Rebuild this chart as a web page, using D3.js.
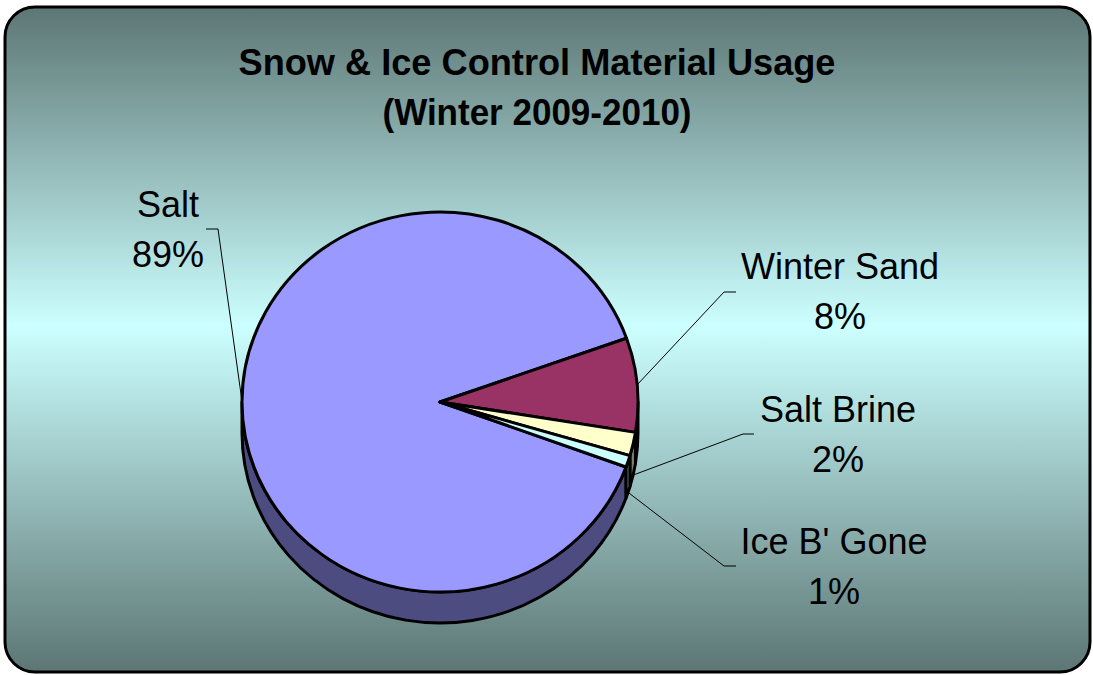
<!DOCTYPE html>
<html>
<head>
<meta charset="utf-8">
<script src="https://cdn.jsdelivr.net/npm/d3@7"></script>
<style>
  html, body { margin: 0; padding: 0; background: #ffffff; }
  svg { display: block; }
  text { font-family: "Liberation Sans", Arial, sans-serif; fill: #000; }
</style>
</head>
<body>
<svg id="chart" width="1093" height="675"></svg>
<script>
// Material usage shares, winter 2009-2010
const categories = ["Salt", "Winter Sand", "Salt Brine", "Ice B' Gone"];
const values = [89, 8, 2, 1];
const percentLabels = ["89%", "8%", "2%", "1%"];
const topColors = ["#9999ff", "#993366", "#ffffcc", "#ccffff"];
const sideColors = ["#4c4c80", "#4d1a33", "#808066", "#668080"];
const titleLines = ["Snow & Ice Control Material Usage", "(Winter 2009-2010)"];

// Layout of the label blocks: text centre, first baseline, and leader elbow
const labelLayout = [
  { x: 168, y: 217, elbow: [[206, 229], [218, 229]] },
  { x: 840, y: 279, elbow: [[736, 292], [724, 292]] },
  { x: 838, y: 422, elbow: [[754, 434], [743, 434]] },
  { x: 834, y: 554, elbow: [[736, 566], [724, 566]] }
];

const W = 1093, H = 675;
const svg = d3.select("#chart");

// Background panel with vertical gradient
const defs = svg.append("defs");
const grad = defs.append("linearGradient")
  .attr("id", "bg").attr("x1", 0).attr("y1", 0).attr("x2", 0).attr("y2", 1);
grad.append("stop").attr("offset", "0%").attr("stop-color", "#5c7674");
grad.append("stop").attr("offset", "48%").attr("stop-color", "#ccffff");
grad.append("stop").attr("offset", "100%").attr("stop-color", "#5c7674");

svg.append("rect")
  .attr("x", 5).attr("y", 7).attr("width", 1085).attr("height", 665)
  .attr("rx", 30).attr("ry", 30)
  .attr("fill", "url(#bg)")
  .attr("stroke", "#000").attr("stroke-width", 3);

// Title
const title = svg.append("g");
titleLines.forEach((t, i) => {
  title.append("text")
    .attr("x", 537).attr("y", 75 + i * 50)
    .attr("text-anchor", "middle")
    .attr("font-weight", "bold")
    .attr("font-size", 37)
    .attr("textLength", i === 0 ? 597 : 309)
    .attr("lengthAdjust", "spacingAndGlyphs")
    .text(t);
});

// 3D pie geometry
const cx = 440, cy = 402, rx = 198, ry = 190, depth = 31;
const deg = Math.PI / 180;
const start = 110 * deg; // clockwise from 12 o'clock
const pie = d3.pie().sort(null).startAngle(start).endAngle(start + 2 * Math.PI);
const arcs = pie(values);

// screen angle: 0 at 3 o'clock, increasing clockwise (y down)
const th = a => a - Math.PI / 2;
const px = t => cx + rx * Math.cos(t);
const py = (t, dz = 0) => cy + ry * Math.sin(t) + dz;

function topPath(a0, a1) {
  const t0 = th(a0), t1 = th(a1);
  const large = (a1 - a0) > Math.PI ? 1 : 0;
  const p = d3.path();
  p.moveTo(cx, cy);
  p.lineTo(px(t0), py(t0));
  return p.toString() +
    `A${rx},${ry} 0 ${large} 1 ${px(t1)},${py(t1)}Z`;
}

function sidePath(a0, a1) {
  // visible front rim: screen angle in [0, PI] modulo 2PI
  let t0 = th(a0), t1 = th(a1);
  const segs = [];
  for (let k = -1; k <= 2; k++) {
    const lo = Math.max(t0, k * 2 * Math.PI), hi = Math.min(t1, k * 2 * Math.PI + Math.PI);
    if (hi > lo) segs.push([lo, hi]);
  }
  return segs.map(([s, e]) => {
    const large = (e - s) > Math.PI ? 1 : 0;
    return `M${px(s)},${py(s)}` +
      `A${rx},${ry} 0 ${large} 1 ${px(e)},${py(e)}` +
      `L${px(e)},${py(e, depth)}` +
      `A${rx},${ry} 0 ${large} 0 ${px(s)},${py(s, depth)}Z`;
  }).join("");
}

const pieG = svg.append("g");
pieG.selectAll("path.side")
  .data(arcs)
  .join("path")
  .attr("class", "side")
  .attr("d", d => sidePath(d.startAngle, d.endAngle))
  .attr("fill", (d, i) => sideColors[i])
  .attr("stroke", "#000").attr("stroke-width", 3).attr("stroke-linejoin", "round");

pieG.selectAll("path.top")
  .data(arcs)
  .join("path")
  .attr("class", "top")
  .attr("d", d => topPath(d.startAngle, d.endAngle))
  .attr("fill", (d, i) => topColors[i])
  .attr("stroke", "#000").attr("stroke-width", 3).attr("stroke-linejoin", "round");

// Leader lines from each slice to its label
const lineGen = d3.line();
arcs.forEach((d, i) => {
  const m = th((d.startAngle + d.endAngle) / 2);
  const front = Math.sin(m) > 0.05;
  const anchor = [px(m), py(m, front ? depth : 0)];
  const pts = labelLayout[i].elbow.concat([anchor]);
  svg.append("path")
    .attr("d", lineGen(pts))
    .attr("fill", "none")
    .attr("stroke", "#000").attr("stroke-width", 1);
});

// Category labels with percentages
const labels = svg.append("g");
categories.forEach((c, i) => {
  const L = labelLayout[i];
  labels.append("text")
    .attr("x", L.x).attr("y", L.y)
    .attr("text-anchor", "middle")
    .attr("font-size", 36)
    .text(c);
  labels.append("text")
    .attr("x", L.x).attr("y", L.y + 50)
    .attr("text-anchor", "middle")
    .attr("font-size", 36)
    .text(percentLabels[i]);
});
</script>
</body>
</html>
